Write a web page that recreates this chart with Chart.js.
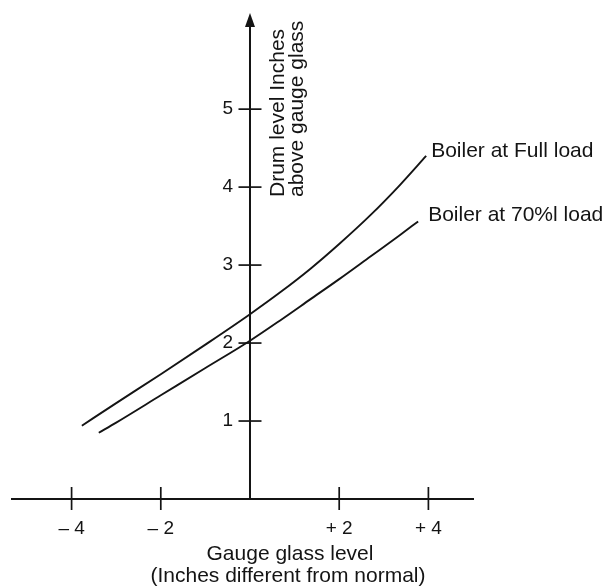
<!DOCTYPE html>
<html>
<head>
<meta charset="utf-8">
<script src="https://cdn.jsdelivr.net/npm/chart.js@4.4.0/dist/chart.umd.min.js"></script>
<style>
html,body{margin:0;padding:0;background:#fff;}
#wrap{width:605px;height:588px;position:relative;}
</style>
</head>
<body>
<div id="wrap"><canvas id="c" width="605" height="588"></canvas></div>
<script>
// ---- data ----
const fullLoadX = [-3.77, -3, -2, -1, 0, 0.7, 1.35, 2, 2.7, 3.35, 3.95];
const fullLoadY = [0.94, 1.23, 1.60, 1.98, 2.37, 2.66, 2.95, 3.27, 3.64, 4.02, 4.40];
const load70X   = [-3.39, -3, -2, -1, 0, 0.7, 1.35, 2, 2.7, 3.35, 3.77];
const load70Y   = [0.85, 0.98, 1.33, 1.68, 2.03, 2.30, 2.56, 2.82, 3.11, 3.38, 3.56];
const seriesNames = ['Boiler at Full load', 'Boiler at 70%l load'];
const xTickValues = [-4, -2, 2, 4];
const xTickLabels = ['\u2013 4', '\u2013 2', '+ 2', '+ 4'];
const yTickValues = [1, 2, 3, 4, 5];
const yTickLabels = ['1', '2', '3', '4', '5'];
const xTitle = ['Gauge glass level', '(Inches different from normal)'];
const yTitle = ['Drum level Inches', 'above gauge glass'];

// ---- styling ----
const INK = '#141414';
const FONT = '"Liberation Sans", Arial, Helvetica, sans-serif';
const toPoints = (xs, ys) => xs.map((x, i) => ({x: x, y: ys[i]}));

const axesDeco = {
  id: 'axesDeco',
  afterDraw(chart) {
    const {ctx, chartArea: a, scales: {x, y}} = chart;
    const x0 = x.getPixelForValue(0);
    const y0 = y.getPixelForValue(0);
    ctx.save();
    ctx.strokeStyle = INK;
    ctx.fillStyle = INK;
    // vertical axis with arrow head
    ctx.lineWidth = 2;
    ctx.beginPath();
    ctx.moveTo(x0, y0);
    ctx.lineTo(x0, a.top + 8);
    ctx.stroke();
    ctx.beginPath();
    ctx.moveTo(x0, a.top - 1);
    ctx.lineTo(x0 - 5, a.top + 13);
    ctx.lineTo(x0 + 5, a.top + 13);
    ctx.closePath();
    ctx.fill();
    // tick marks crossing the axes
    ctx.lineWidth = 1.7;
    yTickValues.forEach(v => {
      const py = y.getPixelForValue(v);
      ctx.beginPath();
      ctx.moveTo(x0 - 11.5, py);
      ctx.lineTo(x0 + 11.5, py);
      ctx.stroke();
    });
    xTickValues.forEach(v => {
      const px = x.getPixelForValue(v);
      ctx.beginPath();
      ctx.moveTo(px, y0 - 12);
      ctx.lineTo(px, y0 + 11);
      ctx.stroke();
    });
    // y tick labels
    ctx.font = '19px ' + FONT;
    ctx.textAlign = 'right';
    ctx.textBaseline = 'middle';
    yTickValues.forEach((v, i) => {
      ctx.fillText(yTickLabels[i], x0 - 17, y.getPixelForValue(v));
    });
    // y axis title (rotated, two lines)
    ctx.font = '21px ' + FONT;
    ctx.textAlign = 'left';
    ctx.textBaseline = 'alphabetic';
    [34, 53].forEach((dx, i) => {
      ctx.save();
      ctx.translate(x0 + dx, 197);
      ctx.rotate(-Math.PI / 2);
      ctx.fillText(yTitle[i], 0, 0);
      ctx.restore();
    });
    // x axis title (two lines)
    ctx.textAlign = 'center';
    ctx.fillText(xTitle[0], 290, 560);
    ctx.fillText(xTitle[1], 288, 582);
    // series labels at the line ends
    ctx.textAlign = 'left';
    const endA = chart.getDatasetMeta(0).data[fullLoadX.length - 1];
    const endB = chart.getDatasetMeta(1).data[load70X.length - 1];
    ctx.fillText(seriesNames[0], endA.x + 5, endA.y + 1);
    ctx.fillText(seriesNames[1], endB.x + 10, endB.y);
    ctx.restore();
  }
};

new Chart(document.getElementById('c').getContext('2d'), {
  type: 'line',
  data: {
    datasets: [
      {label: seriesNames[0], data: toPoints(fullLoadX, fullLoadY), borderColor: INK, borderWidth: 1.9,
       pointRadius: 0, cubicInterpolationMode: 'monotone', fill: false},
      {label: seriesNames[1], data: toPoints(load70X, load70Y), borderColor: INK, borderWidth: 1.9,
       pointRadius: 0, cubicInterpolationMode: 'monotone', fill: false}
    ]
  },
  options: {
    responsive: false,
    animation: false,
    devicePixelRatio: 1,
    layout: {padding: {left: 12, right: 132, top: 14, bottom: 0}},
    plugins: {legend: {display: false}, tooltip: {enabled: false}},
    scales: {
      x: {
        type: 'linear', min: -5.336, max: 5.0,
        grid: {display: false},
        border: {display: true, color: INK, width: 2},
        afterBuildTicks: s => { s.ticks = xTickValues.map(v => ({value: v})); },
        afterFit: s => { s.height = 89; },
        ticks: {
          autoSkip: false, maxRotation: 0, padding: 10,
          color: INK, font: {family: FONT, size: 19},
          callback: v => { const i = xTickValues.indexOf(v); return i >= 0 ? xTickLabels[i] : ''; }
        }
      },
      y: {type: 'linear', min: 0, max: 6.22, display: false}
    }
  },
  plugins: [axesDeco]
});
</script>
</body>
</html>
